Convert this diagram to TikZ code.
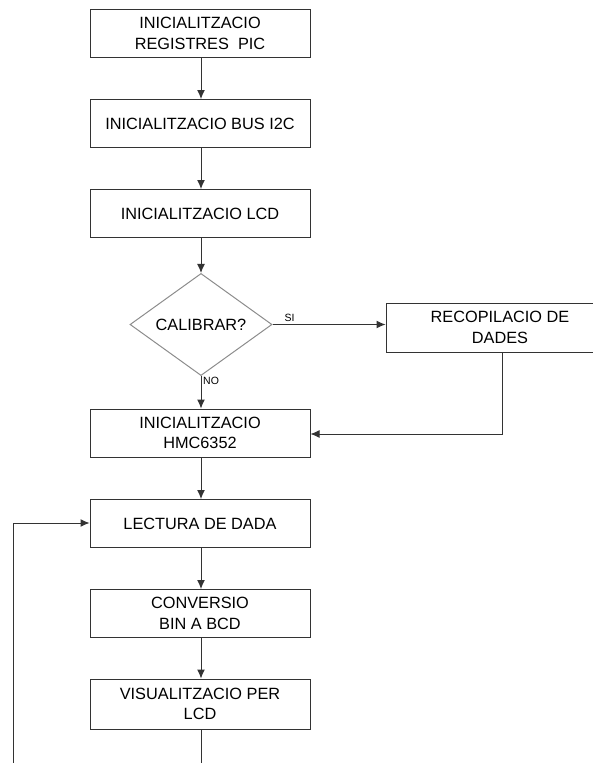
\documentclass[tikz,border=0pt]{standalone}
\usepackage{fontspec}
\setmainfont{Liberation Sans}
\usetikzlibrary{arrows.meta,shapes.geometric}
\definecolor{edge}{HTML}{333333}
\definecolor{diaedge}{HTML}{8C8C8C}
\begin{document}
\begin{tikzpicture}[x=1pt,y=-1pt,
  stepbox/.style={draw=edge,line width=1pt,minimum width=220pt,minimum height=48pt,
    inner sep=0pt,align=center,font=\fontsize{16.3}{20.5}\selectfont},
  decision/.style={diamond,draw=diaedge,line width=1pt,minimum width=142pt,minimum height=86pt,
    inner sep=0pt,font=\fontsize{16.3}{20}\selectfont},
  flow/.style={draw=edge,line width=1pt,-{Latex[length=9pt,width=8pt]}},
  plain/.style={draw=edge,line width=1pt},
  tag/.style={font=\fontsize{10.5}{12}\selectfont,inner sep=0pt}]
\useasboundingbox (0,0) rectangle (593,763);
\begin{scope}
\clip (0,0) rectangle (593,763);
\node[stepbox] (ini)  at (200,33.5)  {INICIALITZACIO\\REGISTRES\ \ PIC};
\node[stepbox] (bus)  at (200,123.5) {INICIALITZACIO BUS I2C};
\node[stepbox] (lcd)  at (200,213.5) {INICIALITZACIO LCD};
\node[decision] (cal) at (201,324.5) {CALIBRAR?};
\node[stepbox,minimum width=228pt,minimum height=49pt] (rec) at (500,327.5) {RECOPILACIO DE\\DADES};
\node[stepbox] (hmc)  at (200,433)   {INICIALITZACIO\\HMC6352};
\node[stepbox] (lec)  at (200,523.5) {LECTURA DE DADA};
\node[stepbox] (bcd)  at (200,613.5) {CONVERSIO\\BIN A BCD};
\node[stepbox,minimum height=50pt] (vis) at (200,704) {VISUALITZACIO PER\\LCD};

\coordinate (recdn) at (502,434);
\coordinate (visdn) at (201,770);
\coordinate (loopdn) at (13,770);
\coordinate (loopup) at (13,523);

\draw[flow] (ini.south -| 201,0) -- (bus.north -| 201,0);
\draw[flow] (bus.south -| 201,0) -- (lcd.north -| 201,0);
\draw[flow] (lcd.south -| 201,0) -- (cal.north);
\draw[flow] (cal.east) -- (rec.west |- cal.east);
\draw[flow] (cal.south) -- (hmc.north -| cal.south);
\draw[flow] (rec.south -| recdn) -- (recdn) -- (hmc.east |- recdn);
\draw[flow] (hmc.south -| 201,0) -- (lec.north -| 201,0);
\draw[flow] (lec.south -| 201,0) -- (bcd.north -| 201,0);
\draw[flow] (bcd.south -| 201,0) -- (vis.north -| 201,0);
\draw[plain] (vis.south -| visdn) -- (visdn);
\draw[flow] (loopdn) -- (loopup) -- (lec.west |- loopup);

\node[tag,anchor=south west] at ([xshift=12pt,yshift=3pt]cal.east) {SI};
\node[tag,anchor=north west] at ([xshift=2pt,yshift=-1pt]cal.south) {NO};
\end{scope}
\end{tikzpicture}
\end{document}
